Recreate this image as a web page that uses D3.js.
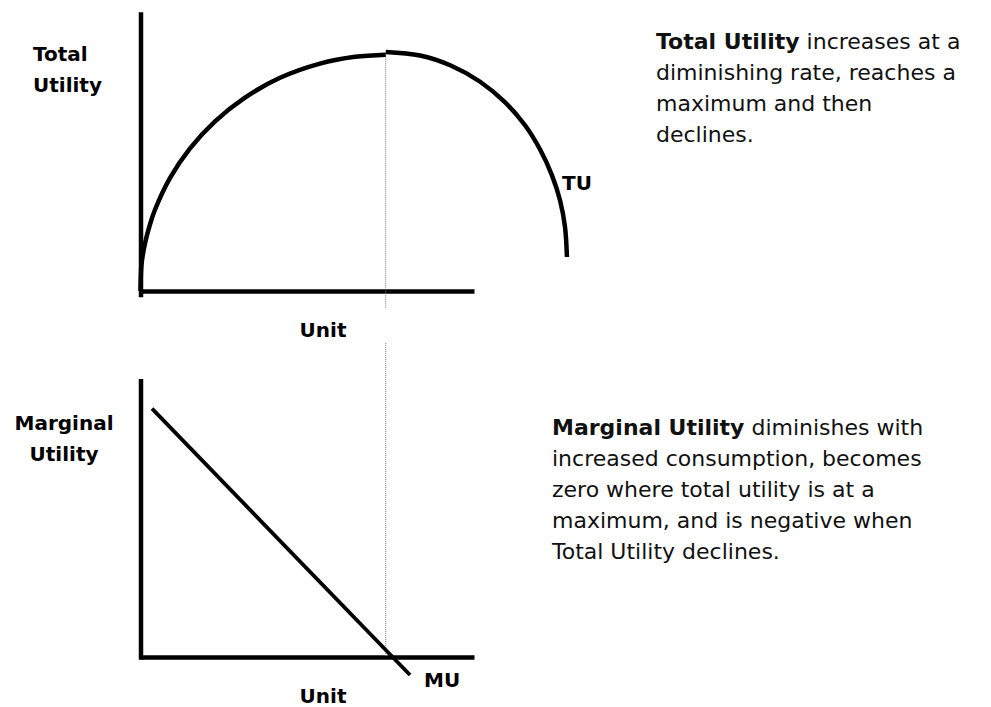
<!DOCTYPE html>
<html>
<head>
<meta charset="utf-8">
<script src="https://cdn.jsdelivr.net/npm/d3@7"></script>
<style>
  body { margin: 0; background: #fff; }
  svg { display: block; }
  text { font-family: "DejaVu Sans", sans-serif; fill: #000; }
  .lbl { font-weight: bold; font-size: 20px; }
  .para { font-size: 22px; fill: #111; }
</style>
</head>
<body>
<div id="chart"></div>
<script>
// values (units on x, utility on y)
const tuRiseUnit  = [0, 0.04, 0.18, 0.39, 0.59, 1.20, 2.02, 3.04, 4.26, 5.69, 7.32, 8.75, 10.0];
const tuRiseValue = [0, 1.12, 2.03, 2.87, 3.49, 4.85, 6.13, 7.29, 8.31, 9.16, 9.77, 10.06, 10.15];
const tuFallUnit  = [10.0, 11.40, 12.63, 13.85, 14.87, 15.68, 16.29, 16.78, 17.11, 17.31, 17.39];
const tuFallValue = [10.27, 10.12, 9.70, 8.99, 8.10, 7.12, 6.09, 4.97, 3.89, 2.76, 1.46];
const muUnit  = [0.47, 10.99];
const muValue = [10.79, -0.78];
const maxUnit = 10; // where TU peaks and MU is zero

const para1 = [
  [["Total Utility", true], [" increases at a", false]],
  [["diminishing rate, reaches a", false]],
  [["maximum and then", false]],
  [["declines.", false]]
];
const para2 = [
  [["Marginal Utility", true], [" diminishes with", false]],
  [["increased consumption, becomes", false]],
  [["zero where total utility is at a", false]],
  [["maximum, and is negative when", false]],
  [["Total Utility declines.", false]]
];

const width = 991, height = 707;
const svg = d3.select("#chart").append("svg").attr("width", width).attr("height", height);

const x = d3.scaleLinear().domain([0, 13.6]).range([140.5, 474]);
const yTop = d3.scaleLinear().domain([-0.25, 12]).range([296.8, 11.7]);
const yBot = d3.scaleLinear().domain([-0.1, 12.1]).range([659.3, 378.5]);

// axes, no ticks
function drawAxes(y) {
  svg.append("g").attr("transform", "translate(0," + y(0) + ")")
    .call(d3.axisBottom(x).tickValues([]).tickSizeOuter(0))
    .select(".domain").attr("stroke", "#000").attr("stroke-width", 4.5);
  svg.append("g").attr("transform", "translate(" + x(0) + ",0)")
    .call(d3.axisLeft(y).tickValues([]).tickSizeOuter(0))
    .select(".domain").attr("stroke", "#000").attr("stroke-width", 4.5);
}
drawAxes(yTop);
drawAxes(yBot);

// dotted guide at the maximum
svg.append("line").attr("x1", x(maxUnit)).attr("x2", x(maxUnit))
  .attr("y1", yTop(d3.max(tuRiseValue))).attr("y2", yTop(0) + 17)
  .attr("stroke", "#777").attr("stroke-width", 1).attr("stroke-dasharray", "1,1");
svg.append("line").attr("x1", x(maxUnit)).attr("x2", x(maxUnit))
  .attr("y1", yTop(0) + 52).attr("y2", yBot(0))
  .attr("stroke", "#777").attr("stroke-width", 1).attr("stroke-dasharray", "1,1");

// curves
function curve(us, vs, y, w) {
  const line = d3.line().x(d => x(d[0])).y(d => y(d[1])).curve(d3.curveCatmullRom.alpha(0.5));
  svg.append("path").datum(d3.zip(us, vs)).attr("d", line)
    .attr("fill", "none").attr("stroke", "#000").attr("stroke-width", w);
}
curve(tuRiseUnit, tuRiseValue, yTop, 4.5);
curve(tuFallUnit, tuFallValue, yTop, 4.5);
curve(muUnit, muValue, yBot, 3.8);

// labels
svg.append("text").attr("class", "lbl").attr("x", 33).attr("y", 61).text("Total");
svg.append("text").attr("class", "lbl").attr("x", 33).attr("y", 92).text("Utility");
svg.append("text").attr("class", "lbl").attr("x", 64).attr("y", 430).attr("text-anchor", "middle").text("Marginal");
svg.append("text").attr("class", "lbl").attr("x", 64).attr("y", 461).attr("text-anchor", "middle").text("Utility");
svg.append("text").attr("class", "lbl").attr("x", 323).attr("y", 337).attr("text-anchor", "middle").text("Unit");
svg.append("text").attr("class", "lbl").attr("x", 323).attr("y", 703).attr("text-anchor", "middle").text("Unit");
svg.append("text").attr("class", "lbl").attr("x", 562).attr("y", 190).text("TU");
svg.append("text").attr("class", "lbl").attr("x", 424).attr("y", 687).text("MU");

function paragraph(lines, x0, y0) {
  const t = svg.append("text").attr("class", "para");
  lines.forEach((parts, i) => {
    parts.forEach((p, j) => {
      const s = t.append("tspan").text(p[0]).attr("font-weight", p[1] ? "bold" : "normal");
      if (j === 0) s.attr("x", x0).attr("y", y0 + i * 31);
    });
  });
}
paragraph(para1, 656, 49);
paragraph(para2, 552, 435);
</script>
</body>
</html>
